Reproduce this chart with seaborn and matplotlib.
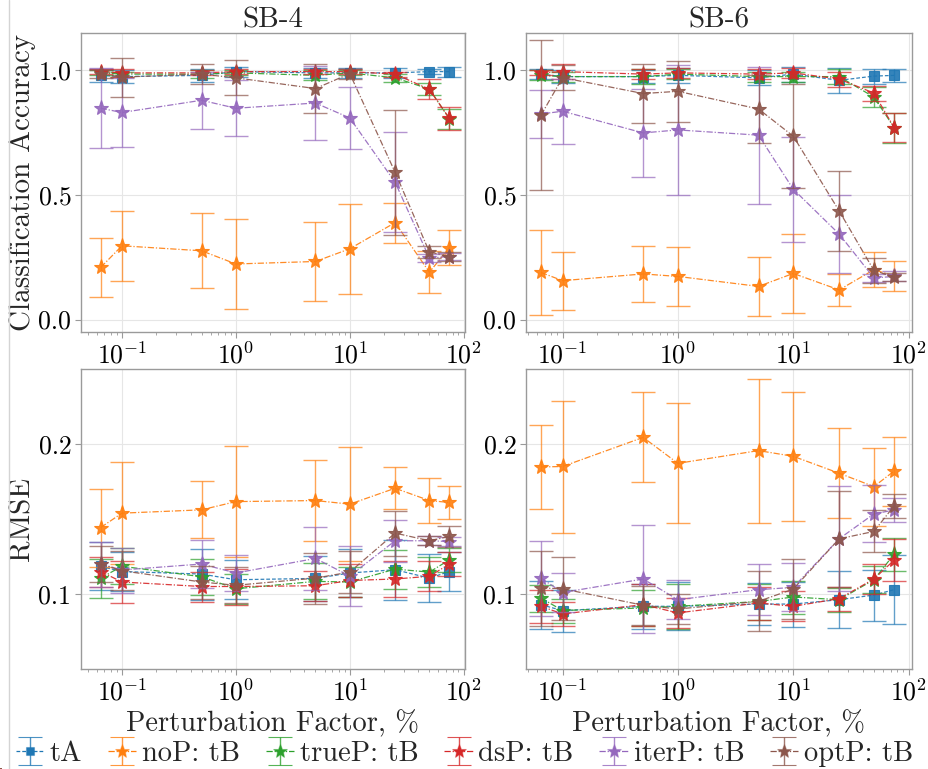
import numpy as np
import pandas as pd
import matplotlib
matplotlib.use("Agg")
import matplotlib.pyplot as plt
from matplotlib.lines import Line2D
import seaborn as sns

# ---------------- data ----------------
x_pf = [0.065, 0.1, 0.5, 1, 5, 10, 25, 50, 75]
methods = ["tA", "noP: tB", "trueP: tB", "dsP: tB", "iterP: tB", "optP: tB"]
panel_titles = ["SB-4", "SB-6"]
row_labels = ["Classification Accuracy", "RMSE"]

acc_sb4 = {
    "tA":        [0.98, 0.975, 0.98, 0.995, 0.99, 0.99, 0.99, 0.995, 0.995],
    "noP: tB":   [0.209, 0.296, 0.276, 0.223, 0.233, 0.284, 0.389, 0.19, 0.289],
    "trueP: tB": [0.99, 0.985, 0.985, 0.99, 0.98, 0.99, 0.97, 0.925, 0.805],
    "dsP: tB":   [0.995, 0.99, 0.99, 0.995, 0.995, 0.995, 0.985, 0.924, 0.807],
    "iterP: tB": [0.848, 0.831, 0.88, 0.848, 0.869, 0.809, 0.551, 0.247, 0.253],
    "optP: tB":  [0.985, 0.973, 0.985, 0.97, 0.927, 0.987, 0.591, 0.271, 0.253],
}
acc_sb4_err = {
    "tA":        [0.025, 0.025, 0.025, 0.02, 0.02, 0.02, 0.02, 0.01, 0.02],
    "noP: tB":   [0.12, 0.14, 0.15, 0.18, 0.157, 0.18, 0.08, 0.085, 0.07],
    "trueP: tB": [0.01, 0.01, 0.015, 0.01, 0.02, 0.01, 0.015, 0.025, 0.04],
    "dsP: tB":   [0.01, 0.015, 0.01, 0.01, 0.01, 0.01, 0.01, 0.04, 0.045],
    "iterP: tB": [0.16, 0.14, 0.115, 0.112, 0.15, 0.125, 0.2, 0.015, 0.015],
    "optP: tB":  [0.015, 0.078, 0.04, 0.07, 0.1, 0.02, 0.25, 0.025, 0.02],
}
acc_sb6 = {
    "tA":        [0.985, 0.975, 0.975, 0.98, 0.97, 0.985, 0.96, 0.977, 0.98],
    "noP: tB":   [0.189, 0.156, 0.183, 0.173, 0.133, 0.185, 0.119, 0.2, 0.175],
    "trueP: tB": [0.98, 0.975, 0.975, 0.985, 0.975, 0.975, 0.975, 0.893, 0.77],
    "dsP: tB":   [0.99, 0.995, 0.985, 0.99, 0.985, 0.99, 0.965, 0.909, 0.77],
    "iterP: tB": [0.825, 0.836, 0.749, 0.761, 0.74, 0.523, 0.343, 0.167, 0.173],
    "optP: tB":  [0.82, 0.971, 0.907, 0.916, 0.845, 0.736, 0.436, 0.197, 0.17],
}
acc_sb6_err = {
    "tA":        [0.02, 0.025, 0.025, 0.03, 0.03, 0.03, 0.05, 0.03, 0.025],
    "noP: tB":   [0.17, 0.117, 0.113, 0.118, 0.12, 0.16, 0.065, 0.07, 0.06],
    "trueP: tB": [0.02, 0.02, 0.03, 0.02, 0.02, 0.02, 0.03, 0.04, 0.06],
    "dsP: tB":   [0.01, 0.03, 0.02, 0.02, 0.02, 0.02, 0.03, 0.03, 0.058],
    "iterP: tB": [0.095, 0.13, 0.175, 0.26, 0.275, 0.21, 0.157, 0.015, 0.02],
    "optP: tB":  [0.3, 0.05, 0.12, 0.123, 0.135, 0.21, 0.16, 0.05, 0.015],
}
rmse_sb4 = {
    "tA":        [0.1184, 0.115, 0.1133, 0.1095, 0.1104, 0.114, 0.1162, 0.1106, 0.115],
    "noP: tB":   [0.1443, 0.1539, 0.1561, 0.1616, 0.1623, 0.1599, 0.1705, 0.1623, 0.161],
    "trueP: tB": [0.1106, 0.1185, 0.1115, 0.1035, 0.1084, 0.108, 0.1166, 0.1146, 0.1228],
    "dsP: tB":   [0.115, 0.108, 0.105, 0.105, 0.1055, 0.109, 0.110, 0.1118, 0.120],
    "iterP: tB": [0.12, 0.116, 0.12, 0.114, 0.1237, 0.112, 0.1355, 0.1355, 0.135],
    "optP: tB":  [0.12, 0.1155, 0.108, 0.1058, 0.1106, 0.1146, 0.1406, 0.1355, 0.1384],
}
rmse_sb4_err = {
    "tA":        [0.016, 0.013, 0.017, 0.013, 0.015, 0.016, 0.02, 0.016, 0.013],
    "noP: tB":   [0.026, 0.034, 0.019, 0.037, 0.027, 0.038, 0.014, 0.015, 0.011],
    "trueP: tB": [0.013, 0.012, 0.012, 0.01, 0.012, 0.01, 0.013, 0.01, 0.008],
    "dsP: tB":   [0.01, 0.014, 0.01, 0.012, 0.01, 0.011, 0.012, 0.01, 0.008],
    "iterP: tB": [0.015, 0.015, 0.016, 0.012, 0.021, 0.02, 0.014, 0.003, 0.003],
    "optP: tB":  [0.012, 0.013, 0.011, 0.012, 0.017, 0.014, 0.015, 0.003, 0.007],
}
rmse_sb6 = {
    "tA":        [0.0929, 0.0889, 0.0918, 0.0918, 0.0933, 0.0933, 0.0962, 0.0993, 0.1029],
    "noP: tB":   [0.1847, 0.185, 0.2044, 0.1871, 0.1956, 0.1918, 0.1805, 0.1716, 0.182],
    "trueP: tB": [0.0973, 0.089, 0.0907, 0.0918, 0.095, 0.098, 0.0962, 0.1095, 0.1266],
    "dsP: tB":   [0.0918, 0.0867, 0.0929, 0.0874, 0.094, 0.0918, 0.0969, 0.110, 0.1226],
    "iterP: tB": [0.1106, 0.101, 0.110, 0.0962, 0.1029, 0.1044, 0.1368, 0.1534, 0.156],
    "optP: tB":  [0.104, 0.1035, 0.0925, 0.09, 0.0951, 0.1033, 0.1368, 0.1417, 0.1588],
}
rmse_sb6_err = {
    "tA":        [0.016, 0.014, 0.015, 0.016, 0.014, 0.015, 0.019, 0.017, 0.023],
    "noP: tB":   [0.028, 0.044, 0.03, 0.04, 0.048, 0.043, 0.03, 0.026, 0.023],
    "trueP: tB": [0.009, 0.008, 0.012, 0.015, 0.012, 0.011, 0.008, 0.009, 0.011],
    "dsP: tB":   [0.011, 0.008, 0.014, 0.01, 0.011, 0.01, 0.008, 0.01, 0.014],
    "iterP: tB": [0.025, 0.013, 0.036, 0.013, 0.017, 0.016, 0.035, 0.019, 0.008],
    "optP: tB":  [0.025, 0.021, 0.013, 0.01, 0.02, 0.02, 0.032, 0.014, 0.008],
}

acc_ticks = [0.0, 0.5, 1.0]
acc_ticklabels = ["0.0", "0.5", "1.0"]
rmse_ticks = [0.1, 0.2]
rmse_ticklabels = ["0.1", "0.2"]

# ---------------- style ----------------
sns.set_theme(style="whitegrid")
plt.rcParams.update({
    "font.family": ["cmr10", "DejaVu Serif"],
    "mathtext.fontset": "cm",
    "mathtext.default": "rm",
    "axes.unicode_minus": False,
    "axes.formatter.use_mathtext": True,
    "axes.edgecolor": "#9a9a9a",
    "axes.linewidth": 1.0,
    "grid.color": "#e6e6e6",
    "grid.linewidth": 0.8,
    "xtick.bottom": True,
    "ytick.left": True,
    "xtick.major.size": 4,
    "xtick.minor.size": 2.5,
    "ytick.major.size": 4,
    "xtick.major.width": 0.8,
    "xtick.minor.width": 0.6,
    "ytick.major.width": 0.8,
    "xtick.color": "#9a9a9a",
    "ytick.color": "#9a9a9a",
    "xtick.labelcolor": "black",
    "ytick.labelcolor": "black",
    "xtick.major.pad": 3,
    "ytick.major.pad": 3,
})

palette = sns.color_palette("tab10", 6)
colors = dict(zip(methods, palette))
markers = {m: ("s" if m == "tA" else "*") for m in methods}
msizes = {m: (7 if m == "tA" else 11) for m in methods}
lstyles = {m: ((0, (3, 1.6)) if m == "tA" else (0, (5, 1.5, 1, 1.5))) for m in methods}

W, H = 929, 769
fig = plt.figure(figsize=(W / 100, H / 100), dpi=100)

def frac_axes(l, t, r, b):
    return fig.add_axes([l / W, 1 - b / H, (r - l) / W, (b - t) / H])

axes = [
    [frac_axes(81, 33, 465, 332), frac_axes(526, 33, 912, 332)],
    [frac_axes(81, 369, 465, 669), frac_axes(526, 369, 912, 669)],
]
xlims = [(0.0437, 102.7), (0.0482, 107)]
means = [[acc_sb4, acc_sb6], [rmse_sb4, rmse_sb6]]
errs = [[acc_sb4_err, acc_sb6_err], [rmse_sb4_err, rmse_sb6_err]]

for r in range(2):
    for c in range(2):
        ax = axes[r][c]
        for k, m in enumerate(methods):
            col = colors[m]
            ax.errorbar(x_pf, means[r][c][m], yerr=errs[r][c][m], fmt="none",
                        ecolor=col, elinewidth=1.0, capsize=8.5, capthick=1.0,
                        alpha=0.7, zorder=2 + k * 2)
            df = pd.DataFrame({"x": x_pf, "y": means[r][c][m]})
            sns.lineplot(data=df, x="x", y="y", ax=ax, color=col,
                         marker=markers[m], markersize=msizes[m],
                         markeredgewidth=0.8,
                         markeredgecolor=(*col, 0.4),
                         linestyle=lstyles[m], linewidth=0.9, alpha=0.9,
                         zorder=3 + k * 2, legend=False, sort=False,
                         estimator=None)
        ax.set_xscale("log")
        ax.set_xlim(*xlims[c])
        if r == 0:
            ax.set_ylim(-0.05, 1.15)
            ax.set_yticks(acc_ticks)
            ax.set_yticklabels(acc_ticklabels)
            ax.set_title(panel_titles[c], fontsize=21, pad=3)
            ax.set_xlabel("")
        else:
            ax.set_ylim(0.05, 0.25)
            ax.set_yticks(rmse_ticks)
            ax.set_yticklabels(rmse_ticklabels)
            ax.set_xlabel("Perturbation Factor, %", fontsize=20.5, labelpad=3)
        if c == 0:
            ax.set_ylabel(row_labels[r], fontsize=21, labelpad=2)
        else:
            ax.set_ylabel("")
        ax.tick_params(axis="both", which="major", labelsize=18.5)
        ax.tick_params(axis="x", which="minor", bottom=True)
        ax.grid(True, which="major")
        ax.grid(False, which="minor")
        for s in ax.spines.values():
            s.set_visible(True)
            s.set_color("#9a9a9a")

# legend handles from errorbar containers on a hidden axis
lax = fig.add_axes([0, 0, 0.001, 0.001])
lax.set_axis_off()
handles = []
for m in methods:
    col = colors[m]
    h = lax.errorbar([0], [0], yerr=[1], fmt=markers[m], linestyle=lstyles[m],
                     color=col, ecolor=(*col, 0.8), elinewidth=1.0, capsize=8.5,
                     capthick=1.0, markersize=msizes[m] - 1, linewidth=0.9,
                     markeredgecolor=(*col, 0.4), markeredgewidth=0.8)
    handles.append(h)
fig.legend(handles, methods, loc="center", bbox_to_anchor=(0.5, 1 - 754 / H),
           ncol=6, frameon=False, fontsize=20.5, handlelength=1.0,
           handletextpad=0.2, columnspacing=0.9, borderpad=0.1)

fig.add_artist(Line2D([9.5 / W, 9.5 / W], [0, 1], color="#d4d4d4", lw=1.0,
                      transform=fig.transFigure))

fig.savefig("out.png", dpi=100)
